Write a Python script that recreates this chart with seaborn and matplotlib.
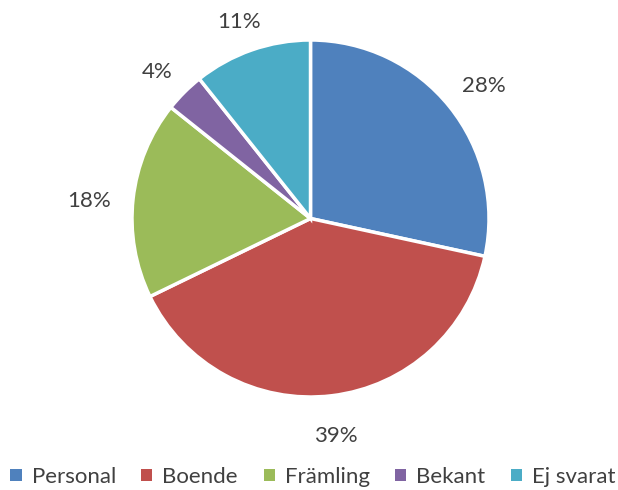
import matplotlib
matplotlib.use("Agg")
import matplotlib.pyplot as plt
import seaborn as sns
import numpy as np
from matplotlib.patches import Patch

categories = ["Personal", "Boende", "Främling", "Bekant", "Ej svarat"]
values = [28.4, 39.4, 17.9, 3.6, 10.7]
colors = ["#4F81BD", "#C0504D", "#9BBB59", "#8064A2", "#4BACC6"]

sns.set_theme(style="white")
plt.rcParams['font.family'] = ['Lato', 'DejaVu Sans']

W, H = 618, 490
fig = plt.figure(figsize=(W / 100, H / 100), dpi=100)
cx, cy, r = 310.5, 218.5, 178.5
ax = fig.add_axes([(cx - r) / W, (H - cy - r) / H, 2 * r / W, 2 * r / H])

wedges, texts, autotexts = ax.pie(
    values, colors=colors, startangle=90, counterclock=False,
    autopct=lambda p: f"{p:.0f}%", pctdistance=1.22, radius=1,
    wedgeprops=dict(edgecolor="white", linewidth=2.5),
    textprops=dict(color="#404040", fontsize=16))
ax.set_xlim(-1, 1)
ax.set_ylim(-1, 1)
ax.set_aspect("equal")
ax.axis("off")

# place labels "outside end": nearest box edge a fixed gap from the circle
fig.canvas.draw()
renderer = fig.canvas.get_renderer()
gap_px = 22
box_h = 17
shift_down = 5
for w, t in zip(wedges, autotexts):
    ang = np.deg2rad((w.theta1 + w.theta2) / 2)
    ux, uy = np.cos(ang), np.sin(ang)
    bb = t.get_window_extent(renderer)
    ext = abs(ux) * bb.width / 2 + abs(uy) * box_h / 2
    d = 1 + (gap_px + ext) / r
    t.set_position((d * ux, d * uy - shift_down / r))
    t.set_ha("center")
    t.set_va("center_baseline")

handles = [Patch(facecolor=c, edgecolor="none") for c in colors]
fig.legend(handles, categories, loc="center", bbox_to_anchor=(0.5 + 4 / W, 1 - 477 / H),
           ncol=5, frameon=False, fontsize=16, handlelength=0.5, handleheight=0.5,
           handletextpad=0.45, columnspacing=1.15, labelcolor="#404040")

fig.savefig("out.png", dpi=100)
